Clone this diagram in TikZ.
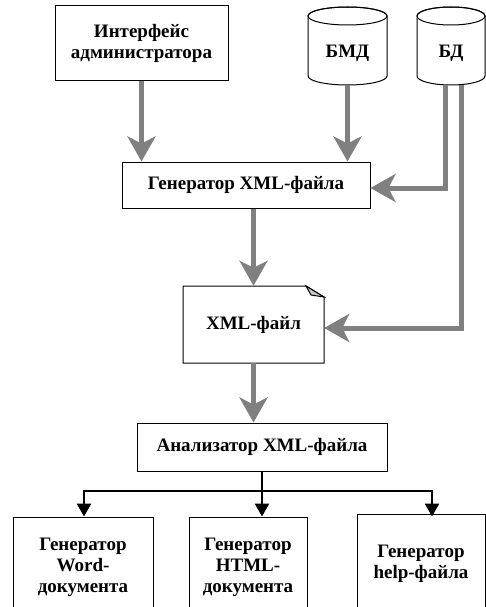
\documentclass[tikz,border=0pt]{standalone}
\usepackage{fontspec}
\setmainfont{Liberation Serif}
\usetikzlibrary{arrows.meta}
\definecolor{arrowgray}{RGB}{128,128,128}
\definecolor{flapgray}{RGB}{200,200,200}
\begin{document}
\begin{tikzpicture}[x=1pt,y=-1pt,
  txt/.style={align=center, inner sep=0pt, font=\fontsize{19}{21}\selectfont\bfseries},
  box/.style={txt, draw, line width=1pt, fill=white},
  outline/.style={draw, line width=1pt, fill=white},
  garrow/.style={draw=arrowgray, line width=5pt, -{Stealth[length=25pt,width=28pt,inset=7pt]}},
  barrow/.style={draw=black, line width=2.5pt, -{Triangle[length=13pt,width=14pt]}},
  bline/.style={draw=black, line width=2.5pt}]
\useasboundingbox (0,0) rectangle (486,607);
\clip (0,0) rectangle (486,607);

% top boxes
\node[box, minimum width=173pt, minimum height=75pt] (iface) at (141.5,43.5) {Интерфейс\\администратора};

% cylinders
\path[outline] (308,16) -- (308,76) arc[start angle=180,end angle=360,x radius=39.5pt,y radius=9pt]
  -- (387,16) arc[start angle=0,end angle=180,x radius=39.5pt,y radius=9pt] -- cycle;
\draw[line width=1pt] (347.5,16) ellipse [x radius=39.5pt, y radius=9pt];
\node[txt, minimum width=79pt, minimum height=64pt] (bmd) at (347.5,53) {БМД};

\path[outline] (417,16) -- (417,76) arc[start angle=180,end angle=360,x radius=34pt,y radius=9pt]
  -- (485,16) arc[start angle=0,end angle=180,x radius=34pt,y radius=9pt] -- cycle;
\draw[line width=1pt] (451,16) ellipse [x radius=34pt, y radius=9pt];
\node[txt, minimum width=68pt, minimum height=64pt] (bd) at (451,53) {БД};

% generator
\node[box, minimum width=248pt, minimum height=46pt] (gen) at (246,185) {Генератор XML-файла};

% xml file
\path[outline] (183,286) -- (306,286) -- (324,297) -- (324,363) -- (183,363) -- cycle;
\path[draw, line width=1pt, fill=flapgray] (306,286) -- (311,295) -- (324,297) -- cycle;
\node[txt, minimum width=141pt, minimum height=77pt] (xml) at (253.5,324.5) {XML-файл};

% analyzer
\node[box, minimum width=250pt, minimum height=48pt] (anal) at (262,447) {Анализатор XML-файла};

% bottom boxes
\node[box, minimum width=140pt, minimum height=100pt] (word) at (83,567) {Генератор\\Word-\\документа};
\node[box, minimum width=118pt, minimum height=100pt] (html) at (248,567) {Генератор\\HTML-\\документа};
\node[box, minimum width=128pt, minimum height=100pt] (help) at (421,564) {Генератор\\help-файла};

% gray arrows
\draw[garrow] (iface.south) -- (iface.south |- gen.north);
\draw[garrow] (bmd.south) -- (bmd.south |- gen.north);
\draw[garrow] ([xshift=-6pt]bd.south) |- ([yshift=-3pt]gen.east);
\draw[garrow] ([xshift=10pt]bd.south) |- ([yshift=-3.5pt]xml.east);
\draw[garrow] (xml.north |- gen.south) -- (xml.north);
\draw[garrow] (xml.south) -- (xml.south |- anal.north);

% black connectors
\coordinate (split) at (262,491);
\draw[barrow] (anal.south) -- (anal.south |- html.north);
\draw[barrow] (split) -| ([xshift=1pt]word.north);
\draw[barrow] (split) -| ([xshift=11pt,yshift=-3pt]help.north);
\end{tikzpicture}
\end{document}
